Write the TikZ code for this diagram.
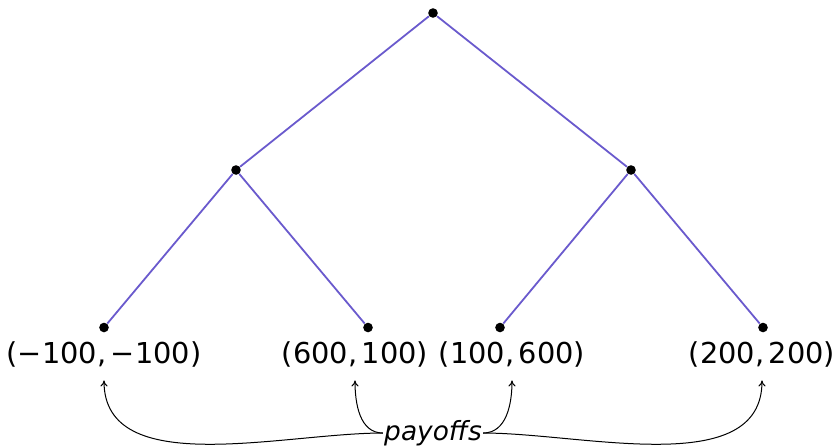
\documentclass[tikz,border=0pt]{standalone}
\usepackage{fontspec}
\setmainfont{DejaVu Sans}
\usetikzlibrary{arrows.meta}
\definecolor{edgecol}{RGB}{106,90,205}
\begin{document}
\begin{tikzpicture}[x=0.5pt,y=-0.5pt,
  dotnode/.style={circle,fill=black,inner sep=0pt,minimum size=4.8pt},
  edge/.style={draw=edgecol,line width=0.9pt},
  payoff/.style={font=\fontsize{14.4}{17}\selectfont,anchor=base,inner xsep=0pt,inner ysep=6.6pt},
  note/.style={font=\fontsize{13.2}{16}\selectfont\itshape,inner sep=0.5pt},
  arr/.style={draw=black,line width=0.5pt,-{To[length=3pt,width=3.5pt]}}]
\useasboundingbox (0,0) rectangle (839,446);
\node[dotnode] (r) at (433,13) {};
\node[dotnode] (a) at (236,170) {};
\node[dotnode] (b) at (631,170) {};
\node[dotnode] (l1) at (104,327.5) {};
\node[dotnode] (l2) at (368,327.5) {};
\node[dotnode] (l3) at (500,327.5) {};
\node[dotnode] (l4) at (763,327.5) {};
\draw[edge] (r) -- (a);
\draw[edge] (r) -- (b);
\draw[edge] (a) -- (l1);
\draw[edge] (a) -- (l2);
\draw[edge] (b) -- (l3);
\draw[edge] (b) -- (l4);
\node[payoff] (p1) at (104,363) {(−100,\,−100)};
\node[payoff] (p2) at (355,363) {(600,\,100)};
\node[payoff] (p3) at (512,363) {(100,\,600)};
\node[payoff] (p4) at (762,363) {(200,\,200)};
\node[note] (n) at (433,433) {payoffs};
\draw[arr] (n.west) to[out=180,in=-90,looseness=0.9] (p1.south);
\draw[arr] (n.west) to[out=180,in=-90] (p2.south);
\draw[arr] (n.east) to[out=0,in=-90] (p3.south);
\draw[arr] (n.east) to[out=0,in=-90,looseness=0.9] (p4.south);
\end{tikzpicture}
\end{document}
